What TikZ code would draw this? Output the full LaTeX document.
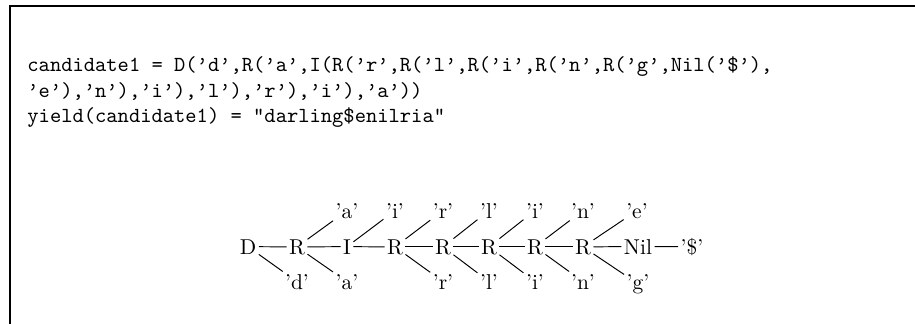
\documentclass[tikz,border=0pt]{standalone}
\usepackage{tikz}
\tikzset{
    frame/.style={line width=0.9pt},
    code/.style={inner sep=0pt, anchor=north west, align=left, font=\ttfamily},
    tnode/.style={inner sep=1pt, anchor=base},
    tleaf/.style={inner sep=1pt, anchor=base},
    tedge/.style={line width=0.45pt}
}

\begin{document}
\begin{tikzpicture}[x=0.4651pt, y=-0.4651pt]
    \useasboundingbox (0,0) rectangle (915,324);
    \draw[frame] (915,6) -- (10,6) -- (10,324);
    % term and its yield
    \node[code] (term) at (27,56) {candidate1 = D(’d’,R(’a’,I(R(’r’,R(’l’,R(’i’,R(’n’,R(’g’,Nil(’\$’),\\
’e’),’n’),’i’),’l’),’r’),’i’),’a’))\\
yield(candidate1) = "darling\$enilria"};
    % spine of the tree
    \node[tnode] (d)   at (248,254) {D};
    \node[tnode] (r1)  at (297,254) {R};
    \node[tnode] (i1)  at (347,254) {I};
    \node[tnode] (r2)  at (395,254) {R};
    \node[tnode] (r3)  at (443,254) {R};
    \node[tnode] (r4)  at (489,254) {R};
    \node[tnode] (r5)  at (535,254) {R};
    \node[tnode] (r6)  at (583,254) {R};
    \node[tnode] (nil) at (638,254) {Nil};
    \node[tleaf] (dol) at (692,254) {'\$'};
    % leaves above
    \node[tleaf] (ua)  at (347,218) {'a'};
    \node[tleaf] (ui)  at (395,218) {'i'};
    \node[tleaf] (ur)  at (443,218) {'r'};
    \node[tleaf] (ul)  at (489,218) {'l'};
    \node[tleaf] (ui2) at (535,218) {'i'};
    \node[tleaf] (un)  at (583,218) {'n'};
    \node[tleaf] (ue)  at (637,218) {'e'};
    % leaves below
    \node[tleaf] (ld)  at (297,289) {'d'};
    \node[tleaf] (la)  at (347,289) {'a'};
    \node[tleaf] (lr)  at (443,289) {'r'};
    \node[tleaf] (ll)  at (489,289) {'l'};
    \node[tleaf] (li)  at (535,289) {'i'};
    \node[tleaf] (ln)  at (583,289) {'n'};
    \node[tleaf] (lg)  at (638,289) {'g'};
    % edges
    \foreach \a/\b in {d/r1, d/ld, r1/ua, r1/i1, r1/la, i1/ui, i1/r2,
        r2/ur, r2/r3, r2/lr, r3/ul, r3/r4, r3/ll, r4/ui2, r4/r5, r4/li,
        r5/un, r5/r6, r5/ln, r6/ue, r6/nil, r6/lg, nil/dol}
        \draw[tedge] (\a) -- (\b);
\end{tikzpicture}
\end{document}
